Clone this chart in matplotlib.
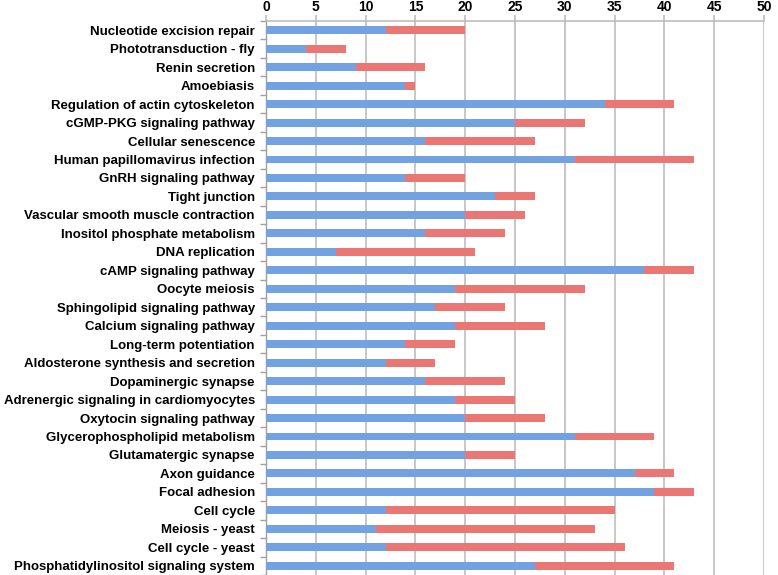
import matplotlib
matplotlib.use("Agg")
import matplotlib.pyplot as plt
import numpy as np

plt.rcParams['font.family'] = ['Liberation Sans', 'DejaVu Sans']

pathways = [
    "Nucleotide excision repair", "Phototransduction - fly", "Renin secretion",
    "Amoebiasis", "Regulation of actin cytoskeleton", "cGMP-PKG signaling pathway",
    "Cellular senescence", "Human papillomavirus infection", "GnRH signaling pathway",
    "Tight junction", "Vascular smooth muscle contraction", "Inositol phosphate metabolism",
    "DNA replication", "cAMP signaling pathway", "Oocyte meiosis",
    "Sphingolipid signaling pathway", "Calcium signaling pathway", "Long-term potentiation",
    "Aldosterone synthesis and secretion", "Dopaminergic synapse",
    "Adrenergic signaling in cardiomyocytes", "Oxytocin signaling pathway",
    "Glycerophospholipid metabolism", "Glutamatergic synapse", "Axon guidance",
    "Focal adhesion", "Cell cycle", "Meiosis - yeast", "Cell cycle - yeast",
    "Phosphatidylinositol signaling system",
]
blue_vals = [12, 4, 9, 14, 34, 25, 16, 31, 14, 23, 20, 16, 7, 38, 19,
             17, 19, 14, 12, 16, 19, 20, 31, 20, 37, 39, 12, 11, 12, 27]
totals = [20, 8, 16, 15, 41, 32, 27, 43, 20, 27, 26, 24, 21, 43, 32,
          24, 28, 19, 17, 24, 25, 28, 39, 25, 41, 43, 35, 33, 36, 41]
red_vals = [t - b for t, b in zip(totals, blue_vals)]

fig = plt.figure(figsize=(7.78, 5.75), dpi=100)
ax = fig.add_axes([0.342, 0.0, 0.640, 0.9635])

y = np.arange(len(pathways))
ax.barh(y, blue_vals, height=0.43, color='#72A2E2', zorder=3)
ax.barh(y, red_vals, left=blue_vals, height=0.43, color='#EA7774', zorder=3)

ax.set_ylim(len(pathways) - 0.5, -0.5)
ax.set_xlim(0, 50)
ax.set_xticks(np.arange(0, 51, 5))
ax.xaxis.tick_top()
ax.grid(axis='x', color='#BDBDBD', linewidth=1.2, zorder=0)

ax.set_yticks(y)
ax.set_yticklabels(pathways, fontsize=9.5, fontweight='bold')
ax.set_yticks(np.arange(-0.5, len(pathways), 1), minor=True)
ax.tick_params(axis='y', which='major', length=0, pad=8)
ax.tick_params(axis='y', which='minor', length=4, color='#A0A0A0', width=1)
ax.tick_params(axis='x', length=4, color='#BDBDBD', width=1.2, pad=1)
for lab in ax.get_xticklabels():
    lab.set_fontweight('bold')
    lab.set_fontsize(10)

for side in ['right', 'bottom']:
    ax.spines[side].set_visible(False)
ax.spines['top'].set_color('#BDBDBD')
ax.spines['top'].set_linewidth(1.2)
ax.spines['left'].set_color('#A0A0A0')
ax.spines['left'].set_linewidth(1)

fig.savefig('out.png', dpi=100)
